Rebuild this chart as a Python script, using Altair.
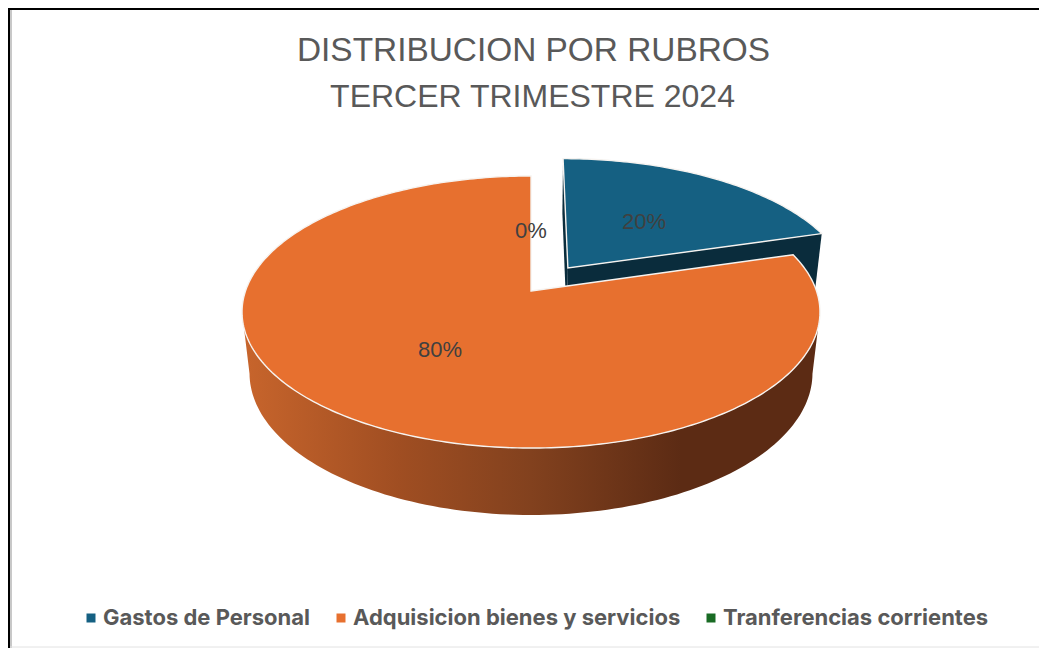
import math
import altair as alt

title_lines = ["DISTRIBUCION POR RUBROS", "TERCER TRIMESTRE 2024"]
categories = ["Gastos de Personal", "Adquisicion bienes y servicios", "Tranferencias corrientes"]
values = [20.4, 79.6, 0]
explode = [0.222, 0.0, 0.0]
colors = ["#156082", "#E7702F", "#196B24"]
wall_colors = ["#0A2C3C", "#8A4420", "#0C3311"]

W, H = 1031, 640
OX, OY = 8, 8
CX, CY = 531 - OX, 291 - OY
A, B, K = 132.8, 285.5, 0.1545   # perspective of the top face
DEPTH_W, DEPTH_C = 0.026, 62.4   # perspective of the bottom face


def project(u, v, base=False):
    m = DEPTH_W if base else 0.0
    c = DEPTH_C if base else 0.0
    w = 1 + K * v + m
    return [CX + B * u / w, CY + (-A * v + c) / w]


def rim(angle, off):
    return off[0] + math.sin(angle), off[1] + math.cos(angle)


def poly(points, **props):
    pts = points + [points[0]]
    return {"type": "Feature", "properties": props,
            "geometry": {"type": "Polygon", "coordinates": [pts]}}


total = sum(values)
tops, cuts, labels = [], [], []
cum = 0.0
for name, val, exp, wall in zip(categories, values, explode, wall_colors):
    a0 = cum / total * 2 * math.pi
    a1 = (cum + val) / total * 2 * math.pi
    mid = (a0 + a1) / 2
    off = (exp * math.sin(mid), exp * math.cos(mid))
    lx, ly = project(off[0] + 0.5 * math.sin(mid), off[1] + 0.5 * math.cos(mid))
    labels.append({"px": lx, "py": ly, "label": f"{round(val / total * 100)}%"})
    cum += val
    if val == 0:
        continue
    n = max(8, int((a1 - a0) * 60))
    arc = [a0 + (a1 - a0) * i / n for i in range(n + 1)]
    tops.append(poly([project(*off)] + [project(*rim(t, off)) for t in arc], rubro=name))
    if exp > 0:
        for t in (a0, a1):
            cuts.append(poly([project(*off), project(*rim(t, off)),
                              project(*rim(t, off), base=True), project(*off, base=True)],
                             fill=wall))

# front wall of the large slice: between the two silhouette tangents
t0 = math.acos(-K)
t1 = 2 * math.pi - t0
steps = [t0 + (t1 - t0) * i / 120 for i in range(121)]
front = [project(math.sin(t), math.cos(t)) for t in steps] + \
        [project(math.sin(t), math.cos(t), base=True) for t in reversed(steps)]


def geo(features):
    return alt.InlineData(values={"type": "FeatureCollection", "features": features},
                          format=alt.DataFormat(property="features", type="json"))


proj = dict(type="identity", scale=1, translate=[0, 0])

wall_gradient = alt.Gradient(
    gradient="linear", x1=0, x2=1, y1=0, y2=0,
    stops=[alt.GradientStop(color="#C8652C", offset=0),
           alt.GradientStop(color="#A04E22", offset=0.27),
           alt.GradientStop(color="#82411E", offset=0.5),
           alt.GradientStop(color="#5C2B14", offset=0.76),
           alt.GradientStop(color="#5C2B14", offset=1)])

front_layer = alt.Chart(geo([poly(front)])).mark_geoshape(
    fill=wall_gradient, strokeWidth=0).project(**proj)
cut_layer = alt.Chart(geo(cuts)).mark_geoshape(strokeWidth=0).encode(
    fill=alt.Fill("properties.fill:N", scale=None)).project(**proj)
top_layer = alt.Chart(geo(tops)).mark_geoshape(stroke="#F6F3F0", strokeWidth=1.4).encode(
    color=alt.Color(
        "properties.rubro:N",
        scale=alt.Scale(domain=categories, range=colors),
        legend=alt.Legend(
            title=None, orient="none", legendX=72, legendY=607 - OY,
            direction="horizontal", columns=3, symbolType="square", symbolSize=81,
            symbolStrokeWidth=0, labelFont="Inter", labelFontWeight="bold",
            labelFontSize=22, labelColor="#595959", labelLimit=400, columnPadding=19,
            labelOffset=1, symbolOpacity=1),
    )).project(**proj)

label_layer = alt.Chart(alt.Data(values=labels)).mark_text(
    font="Liberation Sans", fontSize=22, color="#404040", align="center", baseline="middle", dy=2
).encode(longitude="px:Q", latitude="py:Q", text="label:N").project(**proj)

title_layers = [
    alt.Chart(alt.Data(values=[{"t": t}])).mark_text(
        font="Liberation Sans", fontSize=size, color="#595959", align="center", baseline="alphabetic"
    ).encode(x=alt.value(cx - OX), y=alt.value(y - OY), text="t:N")
    for t, y, size, cx in zip(title_lines, [61, 107], [33.4, 32], [533.5, 532.5])
]

frame = [
    alt.Chart(alt.Data(values=[{}])).mark_rule(color="#000000", strokeWidth=2).encode(
        x=alt.value(1), y=alt.value(0), y2=alt.value(H)),
    alt.Chart(alt.Data(values=[{}])).mark_rule(color="#000000", strokeWidth=2).encode(
        x=alt.value(0), x2=alt.value(W), y=alt.value(1)),
    alt.Chart(alt.Data(values=[{}])).mark_rule(color="#C8C8C8", strokeWidth=2).encode(
        x=alt.value(3), y=alt.value(2), y2=alt.value(H)),
    alt.Chart(alt.Data(values=[{}])).mark_rule(color="#E2E2E2", strokeWidth=1).encode(
        x=alt.value(2), x2=alt.value(W), y=alt.value(H - 1)),
]

chart = alt.layer(
    *frame, front_layer, cut_layer, top_layer, label_layer, *title_layers
).properties(
    width=W, height=H, padding=0, autosize=alt.AutoSizeParams(type="none"), background="#FFFFFF"
).configure_view(stroke=None)

chart.save("out.html", embed_options={"renderer": "svg", "actions": False})
